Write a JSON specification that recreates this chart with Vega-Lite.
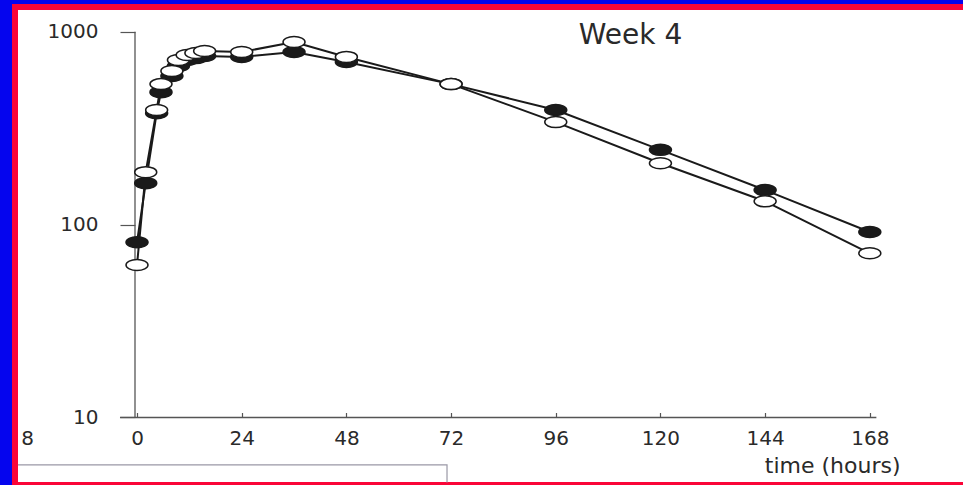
{
  "$schema": "https://vega.github.io/schema/vega-lite/v6.json",
  "autosize": {"type": "none"},
  "padding": {"left": 15, "top": 7, "right": 0, "bottom": 0},
  "width": 951,
  "height": 478,
  "background": "#0505ee",
  "config": {
    "view": {"fill": "white", "stroke": "#fa0538", "strokeWidth": 6},
    "font": "DejaVu Sans"
  },
  "title": {
    "text": "Week 4",
    "anchor": "middle",
    "frame": "group",
    "orient": "top",
    "offset": 0,
    "dx": 140,
    "dy": 65,
    "baseline": "alphabetic",
    "fontSize": 28,
    "fontWeight": "normal",
    "color": "#2a2a2a",
    "font": "DejaVu Sans"
  },
  "datasets": {
    "pk": [
      {"series": "filled", "t": 0, "v": 81},
      {"series": "filled", "t": 2, "v": 164},
      {"series": "filled", "t": 4.5, "v": 378},
      {"series": "filled", "t": 5.5, "v": 486},
      {"series": "filled", "t": 8, "v": 589},
      {"series": "filled", "t": 9.5, "v": 664},
      {"series": "filled", "t": 11.5, "v": 713},
      {"series": "filled", "t": 13.5, "v": 730},
      {"series": "filled", "t": 15.5, "v": 748},
      {"series": "filled", "t": 24, "v": 740},
      {"series": "filled", "t": 36, "v": 785},
      {"series": "filled", "t": 48, "v": 696},
      {"series": "filled", "t": 72, "v": 535},
      {"series": "filled", "t": 96, "v": 393},
      {"series": "filled", "t": 120, "v": 244},
      {"series": "filled", "t": 144, "v": 151},
      {"series": "filled", "t": 168, "v": 91.6},
      {"series": "open", "t": 0, "v": 61.7},
      {"series": "open", "t": 2, "v": 187},
      {"series": "open", "t": 4.5, "v": 393},
      {"series": "open", "t": 5.5, "v": 535},
      {"series": "open", "t": 8, "v": 625},
      {"series": "open", "t": 9.5, "v": 713},
      {"series": "open", "t": 11.5, "v": 757},
      {"series": "open", "t": 13.5, "v": 775},
      {"series": "open", "t": 15.5, "v": 794},
      {"series": "open", "t": 24, "v": 785},
      {"series": "open", "t": 36, "v": 885},
      {"series": "open", "t": 48, "v": 740},
      {"series": "open", "t": 72, "v": 535},
      {"series": "open", "t": 96, "v": 340},
      {"series": "open", "t": 120, "v": 208},
      {"series": "open", "t": 144, "v": 132},
      {"series": "open", "t": 168, "v": 71}
    ],
    "axislines": [
      {"t1": -3.9, "t2": 169.5, "v1": 10, "v2": 10},
      {"t1": -0.46, "t2": -0.46, "v1": 10, "v2": 1000}
    ],
    "fragment": [
      {"k": 1, "t": -27.3, "v": 5.68},
      {"k": 2, "t": 71.07, "v": 5.68},
      {"k": 3, "t": 71.07, "v": 4.6}
    ]
  },
  "layer": [
    {
      "data": {"name": "pk"},
      "mark": {"type": "line", "color": "#1a1a1a", "strokeWidth": 2},
      "encoding": {
        "x": {
          "field": "t",
          "type": "quantitative",
          "scale": {"domain": [-27.97, 190.05], "nice": false, "zero": false},
          "axis": {
            "orient": "bottom",
            "offset": -67.5,
            "domain": false,
            "grid": false,
            "values": [-25.2, 0, 24, 48, 72, 96, 120, 144, 168],
            "labelExpr": "datum.value < 0 ? '8' : datum.label",
            "tickSize": -5,
            "tickColor": "#555555",
            "tickWidth": 1.2,
            "tickOpacity": {"condition": {"test": "datum.value < 0", "value": 0}, "value": 1},
            "labelFontSize": 20,
            "labelColor": "#2a2a2a",
            "labelPadding": 16,
            "labelFlush": false,
            "labelOverlap": false,
            "title": "time (hours)",
            "titleFontSize": 22,
            "titleFontWeight": "normal",
            "titleColor": "#2a2a2a",
            "titleAlign": "right",
            "titleBaseline": "alphabetic",
            "titleX": 885,
            "titleY": 55
          }
        },
        "y": {
          "field": "v",
          "type": "quantitative",
          "scale": {"type": "log", "domain": [4.467, 1343], "nice": false, "zero": false},
          "axis": {
            "orient": "left",
            "offset": -120,
            "domain": false,
            "grid": false,
            "values": [10, 100, 1000],
            "format": "d",
            "tickSize": 15,
            "tickColor": "#555555",
            "tickWidth": 1.2,
            "labelFontSize": 20,
            "labelColor": "#2a2a2a",
            "labelPadding": 22,
            "title": null
          }
        },
        "detail": {"field": "series", "type": "nominal"}
      }
    },
    {
      "data": {"name": "fragment"},
      "mark": {"type": "line", "color": "#9a98a6", "strokeWidth": 1.2},
      "encoding": {
        "x": {"field": "t", "type": "quantitative"},
        "y": {"field": "v", "type": "quantitative"},
        "order": {"field": "k", "type": "quantitative"}
      }
    },
    {
      "data": {"name": "axislines"},
      "mark": {"type": "rule", "color": "#555555", "strokeWidth": 1.3},
      "encoding": {
        "x": {"field": "t1", "type": "quantitative"},
        "x2": {"field": "t2"},
        "y": {"field": "v1", "type": "quantitative"},
        "y2": {"field": "v2"}
      }
    },
    {
      "data": {"name": "pk"},
      "mark": {
        "type": "point",
        "shape": "M-1,0A1,0.5,0,1,0,1,0A1,0.5,0,1,0,-1,0Z",
        "size": 484,
        "filled": true,
        "stroke": "#1a1a1a",
        "strokeWidth": 1.5,
        "opacity": 1
      },
      "encoding": {
        "x": {"field": "t", "type": "quantitative"},
        "y": {"field": "v", "type": "quantitative"},
        "fill": {
          "field": "series",
          "type": "nominal",
          "scale": {"domain": ["filled", "open"], "range": ["#1a1a1a", "#ffffff"]},
          "legend": null
        }
      }
    }
  ]
}
